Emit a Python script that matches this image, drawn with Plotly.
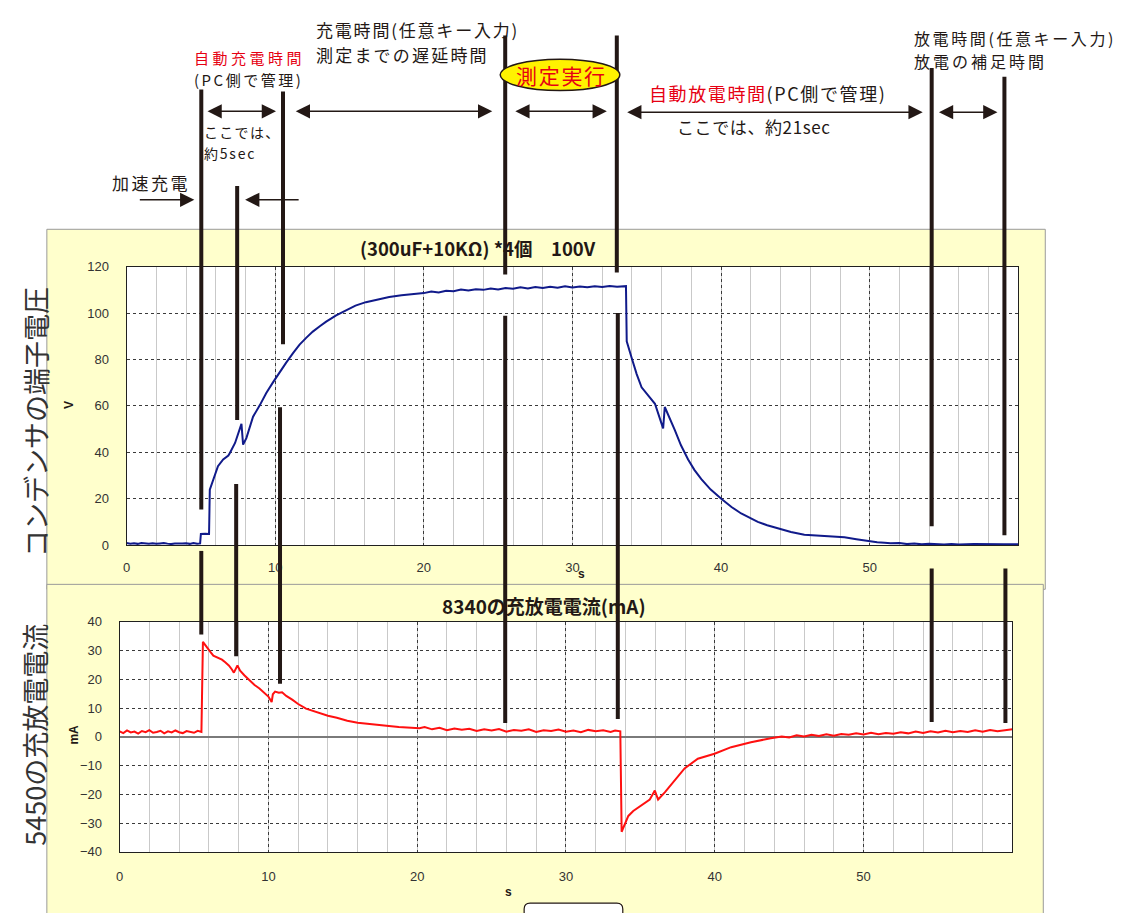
import plotly.graph_objects as go

W, H = 1122, 913


def px(x):
    return x / W


def py(y):
    return 1 - y / H


# ---------------- data ----------------
volt_t = [0, 0.25, 0.5, 0.75, 1.0, 1.25, 1.5, 1.75, 2.0, 2.25, 2.5, 2.75, 3.0, 3.25, 3.5, 3.75,
          4.0, 4.25, 4.5, 4.75, 4.95, 5.0, 5.3, 5.55, 5.6, 5.85, 6.15, 6.5, 6.85, 6.95, 7.3, 7.73,
          7.84, 8.06, 8.51, 8.96, 9.4, 9.85, 10.3, 10.74, 11.2, 11.64, 12.1, 12.53, 13.0, 13.43,
          14.1, 14.77, 15.4, 16.1, 16.9, 17.67, 18.5, 19.3,
          20, 20.5, 21, 21.5, 22, 22.5, 23, 23.5, 24, 24.5, 25, 25.5, 26, 26.5, 27, 27.5, 28,
          28.5, 29, 29.5, 30, 30.5, 31, 31.5, 32, 32.5, 33, 33.6,
          33.65, 33.98, 34.32, 34.65, 35.21, 35.55, 36.1, 36.21,
          36.88, 37.3, 37.78, 38.2, 38.67, 39.3, 40.01, 40.7, 41.35, 42.47, 43.1, 43.8, 44.7,
          45.6, 46.4, 47.0, 47.6, 48.3, 49.1, 49.95, 50.5, 51.0, 51.4, 52.0, 52.5, 53.0, 53.5,
          54.0, 55.0, 55.5, 56.0, 57.0, 58.0, 59.0, 60.0]
volt_v = [0.9, 0.6, 0.8, 0.5, 0.9, 0.7, 0.6, 0.8, 0.5, 0.7, 0.9, 0.6, 0.4, 0.6, 0.5, 0.7,
          0.8, 0.5, 0.9, 0.6, 0.7, 4.8, 4.9, 4.8, 23.9, 28.4, 34.0, 36.9, 38.6, 39.7, 44.0, 52.2,
          43.3, 46.1, 55.3, 60.2, 65.5, 70.1, 74.5, 78.6, 82.7, 86.4, 89.4, 92.0, 94.3, 96.3,
          99.0, 101.2, 103.2, 104.7, 105.9, 106.9, 107.7, 108.2,
          108.6, 109.3, 108.9, 109.6, 109.4, 110.1, 109.7, 110.3, 110.0, 110.6, 110.2, 110.8,
          110.5, 111.1, 110.6, 111.2, 110.8, 111.3, 110.9, 111.5, 111.0, 111.4, 111.1, 111.6,
          111.2, 111.7, 111.3, 111.6,
          87.8, 80.7, 73.7, 68.0, 63.7, 60.9, 50.3, 59.5,
          49.6, 43.0, 36.9, 32.4, 28.4, 23.9, 19.9, 16.4, 13.6, 10.0, 8.5, 7.2, 5.6,
          4.4, 4.1, 3.8, 3.7, 3.3, 2.5, 1.6, 1.2, 1.0, 0.8, 0.9, 0.4, 0.6, 0.3,
          0.5, 0.2, 0.4, 0.2, 0.4, 0.2, 0.3, 0.3]

cur_t = [0, 0.25, 0.5, 0.75, 1.0, 1.25, 1.5, 1.75, 2.0, 2.25, 2.5, 2.75, 3.0, 3.25, 3.5, 3.75,
         4.0, 4.25, 4.5, 4.75, 5.0, 5.25, 5.5, 5.6, 5.84, 6.1, 6.3, 6.6, 6.88, 7.1, 7.34, 7.55,
         7.68, 7.92, 8.1, 8.38, 8.7, 9.07, 9.4, 9.76, 10.0, 10.22, 10.3, 10.45, 10.7, 10.92,
         11.2, 11.6, 12.0, 12.53, 13.0, 13.45, 14.0, 14.6, 15.3, 16.0, 16.7, 17.4, 18.1, 18.76,
         19.4, 20.15, 20.5, 21, 21.5, 22, 22.5, 23, 23.5, 24, 24.5, 25, 25.5, 26, 26.5, 27,
         27.5, 28, 28.5, 29, 29.5, 30, 30.5, 31, 31.5, 32, 32.5, 33, 33.3, 33.65,
         33.74, 33.96, 34.19, 34.52, 35.08, 35.63, 35.97, 36.19, 36.64, 37.3, 37.97, 38.86,
         39.98, 41.1, 42.43, 43.76, 44.5, 45.0, 45.5, 46.0, 46.5, 47.0, 47.5, 48.0, 48.5,
         49.0, 49.5, 50.0, 50.5, 51.0, 51.5, 52.0, 52.5, 53.0, 53.5, 54.0, 54.5, 55.0, 55.5,
         56.0, 56.5, 57.0, 57.5, 58.0, 58.5, 59.0, 59.5, 60.0]
cur_ma = [1.9, 1.3, 2.2, 1.5, 1.8, 1.1, 2.0, 1.6, 2.3, 1.4, 1.7, 2.1, 1.2, 1.9, 1.5, 2.2,
          1.6, 1.3, 2.0, 1.8, 1.4, 2.1, 1.7, 33.0, 31.1, 29.5, 28.2, 27.6, 26.8, 25.9, 24.8, 23.4,
          22.3, 24.8, 23.0, 21.4, 19.8, 18.0, 16.8, 15.1, 14.0, 12.1, 14.8, 15.7, 15.3, 15.5,
          14.2, 12.9, 11.4, 9.8, 9.0, 8.3, 7.3, 6.6, 5.6, 4.9, 4.6, 4.1, 3.8, 3.4,
          3.3, 3.0, 3.4, 2.6, 3.1, 2.3, 2.9, 2.5, 2.8, 2.0, 2.6, 2.2, 2.7, 1.8, 2.4, 2.1,
          2.6, 1.7, 2.3, 2.0, 2.5, 1.8, 2.2, 1.6, 2.4, 1.9, 2.3, 1.7, 2.2, 1.9,
          -33.0, -30.4, -27.5, -25.8, -23.9, -21.8, -18.7, -21.8, -19.3, -15.0, -11.0, -7.6,
          -5.9, -3.6, -1.9, -0.5, 0.1, -0.2, 0.5, 0.1, 0.7, 0.3, 0.9, 0.4, 1.0, 0.7, 1.2,
          0.8, 1.4, 0.9, 1.3, 1.1, 1.6, 1.2, 1.8, 1.3, 1.9, 1.5, 2.1, 1.6, 2.0, 1.7, 2.3, 1.8,
          2.4, 1.9, 2.2, 2.6, 2.0]

volt_xticks = [0, 10, 20, 30, 40, 50]
volt_yticks = [0, 20, 40, 60, 80, 100, 120]
cur_xticks = [0, 10, 20, 30, 40, 50]
cur_yticks = [-40, -30, -20, -10, 0, 10, 20, 30, 40]

title_upper = "(300uF+10KΩ) *4個　100V"
title_lower = "8340の充放電電流(mA)"

# ---------------- figure ----------------
JP = "Noto Sans CJK JP"
TICKF = "Liberation Sans Narrow, Liberation Sans, sans-serif"
RED = "#e60012"

fig = go.Figure()
fig.add_trace(go.Scatter(x=volt_t, y=volt_v, mode="lines", xaxis="x", yaxis="y",
                         line=dict(color="#101a8a", width=2), showlegend=False, hoverinfo="skip"))
fig.add_trace(go.Scatter(x=cur_t, y=cur_ma, mode="lines", xaxis="x2", yaxis="y2",
                         line=dict(color="#ff1010", width=2), showlegend=False, hoverinfo="skip"))

UP = dict(x0=123, x1=1018, y0=264, y1=547)
LO = dict(x0=116, x1=1012, y0=625, y1=859)

common = dict(showline=True, linecolor="#202020", linewidth=1, mirror=True, ticks="",
              showgrid=True, gridcolor="#3a3a3a", gridwidth=1, griddash="dot",
              zeroline=False, tickfont=dict(family=TICKF, size=13, color="#333333"))
xminor = dict(dtick=2, showgrid=True, gridcolor="#c9c9c9", gridwidth=1, griddash="solid")

fig.update_layout(
    width=W, height=H, margin=dict(l=0, r=0, t=0, b=0),
    paper_bgcolor="white", plot_bgcolor="rgba(0,0,0,0)",
    xaxis=dict(common, domain=[px(UP["x0"]), px(UP["x1"])], range=[0, 60], anchor="y",
               tickvals=volt_xticks, minor=xminor, ticklabelstandoff=10),
    yaxis=dict(common, domain=[py(UP["y1"]), py(UP["y0"])], range=[0, 120], anchor="x",
               tickvals=volt_yticks, ticklabelstandoff=14),
    xaxis2=dict(common, domain=[px(LO["x0"]), px(LO["x1"])], range=[0, 60], anchor="y2",
                tickvals=cur_xticks, minor=xminor, ticklabelstandoff=13),
    yaxis2=dict(common, domain=[py(LO["y1"]), py(LO["y0"])], range=[-40, 40], anchor="x2",
                tickvals=cur_yticks, ticklabelstandoff=14, zeroline=True,
                zerolinecolor="#7a7a7a", zerolinewidth=1.5),
)

shapes = []
# yellow panels
shapes.append(dict(type="rect", xref="paper", yref="paper", layer="below",
                   x0=px(43), x1=px(1045), y0=py(592), y1=py(226),
                   fillcolor="#ffffcc", line=dict(color="#9a9a9a", width=1)))
shapes.append(dict(type="rect", xref="paper", yref="paper", layer="below",
                   x0=px(43), x1=px(1043), y0=py(925), y1=py(587),
                   fillcolor="#ffffcc", line=dict(color="#9a9a9a", width=1)))
# white plot areas
for r in (UP, LO):
    shapes.append(dict(type="rect", xref="paper", yref="paper", layer="below",
                       x0=px(r["x0"]), x1=px(r["x1"]), y0=py(r["y1"]), y1=py(r["y0"]),
                       fillcolor="white", line=dict(width=0)))

# thick black marker lines (x, top, bottom) in pixels
segs = [
    (198, 84, 511), (198, 553, 638),
    (234, 182, 420), (233, 485, 660),
    (280, 86, 343), (277, 407, 688),
    (503, 29, 272), (503, 314, 728),
    (615, 29, 270), (616, 311, 724),
    (931, 62, 528), (931, 571, 727),
    (1004, 71, 537), (1005, 571, 728),
]
for x, y0, y1 in segs:
    shapes.append(dict(type="line", xref="paper", yref="paper", layer="above",
                       x0=px(x), x1=px(x), y0=py(y0), y1=py(y1),
                       line=dict(color="#231815", width=4)))

# ellipse for 測定実行
shapes.append(dict(type="circle", xref="paper", yref="paper", layer="above",
                   x0=px(498), x1=px(618), y0=py(85), y1=py(53),
                   fillcolor="#fff200", line=dict(color="#231815", width=1.5)))


def P(x, y):
    return f"{px(x):.5f},{py(y):.5f}"


# bottom rounded box (partially visible)
path = (f"M {P(522, 930)} L {P(522, 917)} Q {P(522, 911)} {P(528, 911)} "
        f"L {P(615, 911)} Q {P(621, 911)} {P(621, 917)} L {P(621, 930)} Z")
shapes.append(dict(type="path", xref="paper", yref="paper", layer="above", path=path,
                   fillcolor="white", line=dict(color="#231815", width=1.2)))

fig.update_layout(shapes=shapes)

ann = []


def text(x, y, s, size=16, color="#231815", xanchor="left", bold=False, angle=0, family=JP, ls=0):
    t = f"<b>{s}</b>" if bold else s
    if ls:
        t = f'<span style="letter-spacing:{ls}px">{t}</span>'
    ann.append(dict(xref="paper", yref="paper", x=px(x), y=py(y), text=t,
                    showarrow=False, xanchor=xanchor, yanchor="middle", textangle=angle,
                    font=dict(family=family, size=size, color=color)))


def arrow(x_from, x_to, y, both=False):
    ann.append(dict(xref="paper", yref="paper", x=px(x_to), y=py(y), ax=x_from - x_to, ay=0,
                    axref="pixel", ayref="pixel", text="", showarrow=True,
                    arrowhead=2, arrowsize=1.9, arrowwidth=1.5, arrowcolor="#231815",
                    arrowside="end+start" if both else "end", standoff=0, startstandoff=0,
                    startarrowhead=2, startarrowsize=1.9))


# top texts
text(246, 51.5, "自動充電時間", size=15, color=RED, xanchor="center", ls=3.5)
text(245, 73.5, "(PC側で管理)", size=15, xanchor="center", ls=2.5)
text(199, 127.5, "ここでは、", size=14, ls=1.3)
text(199, 148, "約5sec", size=14, ls=1.8)
text(106, 178, "加速充電", size=17, ls=2.5)
text(311, 23, "充電時間(任意キー入力)", size=17, ls=1.8)
text(311, 48, "測定までの遅延時間", size=17, ls=2.2)
text(559, 69, "測定実行", size=21, color=RED, xanchor="center", ls=1.7)
text(645, 87, f'<span style="color:{RED}">自動放電時間</span>(PC側で管理)', size=18, ls=1.6)
text(753, 122, "ここでは、約21sec", size=17, xanchor="center", ls=0.6)
text(911, 31.5, "放電時間(任意キー入力)", size=16, ls=2.6)
text(911, 54.5, "放電の補足時間", size=16, ls=3)

# arrows
arrow(203, 273, 106, both=True)
arrow(292, 490, 106, both=True)
arrow(512, 605, 106, both=True)
arrow(625, 922, 107, both=True)
arrow(937, 997, 107, both=True)
arrow(135, 191, 196)
arrow(297, 242, 196)

# chart titles and axis titles
text(476, 245, title_upper, size=18.5, xanchor="center", bold=True)
text(542, 608, title_lower, size=19, xanchor="center", bold=True)
text(66, 405, "V", size=12, xanchor="center", bold=True, angle=-90, family="Liberation Sans")
text(70, 740, "mA", size=12, xanchor="center", bold=True, angle=-90, family="Liberation Sans")
text(580, 576, "s", size=12, xanchor="center", bold=True, family="Liberation Sans")
text(506, 900, "s", size=12, xanchor="center", bold=True, family="Liberation Sans")

# left vertical labels
text(31, 422, "コンデンサの端子電圧", size=27, xanchor="center", angle=-90, color="#333333")
text(31, 740, "5450の充放電電流", size=27, xanchor="center", angle=-90, color="#333333")

fig.update_layout(annotations=ann)

fig.write_html("out.html", config={"displayModeBar": False},
               post_script="document.body.style.margin='0';")
